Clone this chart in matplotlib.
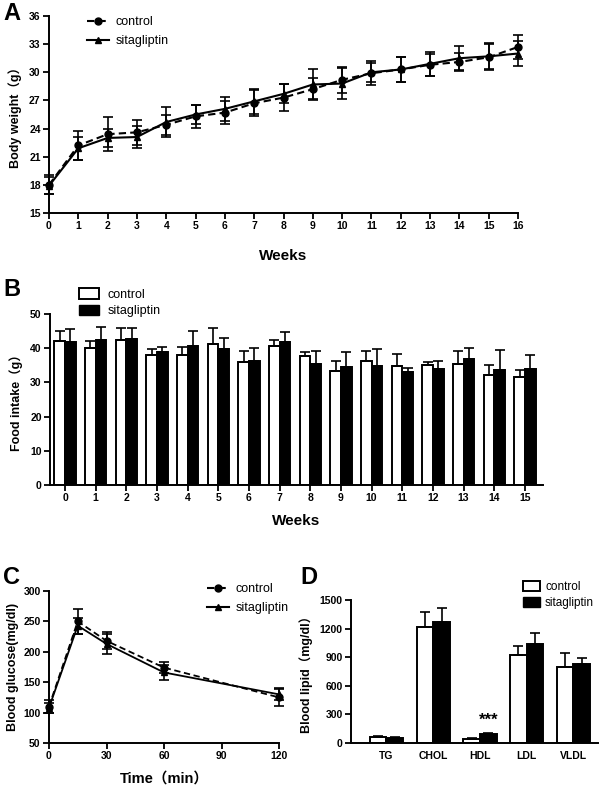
import numpy as np
import matplotlib
matplotlib.use('Agg')
import matplotlib.pyplot as plt
from matplotlib.lines import Line2D
from matplotlib.patches import Patch

plt.rcParams['font.family'] = ['Liberation Sans', 'Noto Sans CJK SC', 'DejaVu Sans']
plt.rcParams['font.weight'] = 'bold'

# --- data ---
weeks = np.arange(17)
bw_control = [18.0, 22.2, 23.4, 23.6, 24.4, 25.3, 25.7, 26.7, 27.3, 28.2, 29.2, 29.9, 30.3, 30.8, 31.1, 31.6, 32.7]
bw_control_err = [1.0, 1.5, 1.8, 1.3, 1.1, 1.2, 1.2, 1.4, 1.4, 1.2, 1.4, 1.3, 1.3, 1.2, 1.0, 1.4, 1.3]
bw_sita = [17.9, 21.9, 23.0, 23.1, 24.7, 25.5, 26.1, 26.9, 27.7, 28.7, 28.8, 30.0, 30.3, 30.9, 31.5, 31.7, 32.0]
bw_sita_err = [0.9, 1.2, 1.0, 1.2, 1.6, 1.0, 1.3, 1.3, 1.0, 1.6, 1.7, 1.0, 1.3, 1.3, 1.3, 1.4, 1.3]

fi_weeks = np.arange(16)
fi_control = [42.2, 40.1, 42.3, 38.1, 38.0, 41.2, 35.9, 40.7, 37.8, 33.2, 36.2, 34.9, 35.2, 35.3, 32.2, 31.6]
fi_control_err = [2.7, 2.1, 3.7, 1.7, 2.3, 4.7, 3.2, 1.8, 1.0, 3.0, 3.0, 3.3, 0.9, 4.0, 2.8, 2.0]
fi_sita = [41.8, 42.4, 42.8, 38.8, 40.5, 39.9, 36.3, 41.9, 35.5, 34.4, 34.7, 32.9, 33.9, 36.8, 33.7, 34.0]
fi_sita_err = [3.7, 3.8, 3.0, 1.5, 4.5, 3.0, 3.8, 2.8, 3.8, 4.5, 5.2, 1.2, 2.4, 3.3, 5.8, 4.0]

gtt_time = [0, 15, 30, 60, 120]
gtt_control = [110, 250, 218, 174, 125]
gtt_control_err = [10, 21, 14, 9, 14]
gtt_sita = [108, 243, 213, 166, 130]
gtt_sita_err = [8, 13, 16, 12, 10]

lipids = ['TG', 'CHOL', 'HDL', 'LDL', 'VLDL']
lip_control = [60, 1213, 45, 922, 792]
lip_control_err = [12, 165, 8, 94, 154]
lip_sita = [55, 1268, 92, 1035, 827]
lip_sita_err = [10, 153, 8, 123, 60]

W, H = 600, 787
fig = plt.figure(figsize=(6, 7.87), dpi=100)


def px_axes(x0, y0, x1, y1):
    # pixel box (top-left origin) -> axes
    return fig.add_axes([x0 / W, 1 - y1 / H, (x1 - x0) / W, (y1 - y0) / H])


def style(ax):
    for s in ['top', 'right']:
        ax.spines[s].set_visible(False)
    for s in ['left', 'bottom']:
        ax.spines[s].set_linewidth(1.4)
    ax.tick_params(direction='out', length=4, width=1.3, labelsize=7.5, pad=2)
    for t in ax.get_xticklabels() + ax.get_yticklabels():
        t.set_fontweight('bold')


ekw = dict(capsize=3.5, elinewidth=1.2, capthick=1.2, ecolor='black')
leg_font = {'weight': 'normal', 'size': 9}

# ---------- A ----------
axA = px_axes(49, 16, 518, 213)
axA.errorbar(weeks, bw_control, yerr=bw_control_err, fmt='o--', color='black',
             ms=5, lw=1.5, dashes=(3.5, 2), **ekw)
axA.errorbar(weeks, bw_sita, yerr=bw_sita_err, fmt='^-', color='black',
             ms=5, lw=1.5, **ekw)
axA.set_xlim(0, 16)
axA.set_ylim(15, 36)
axA.set_xticks(weeks)
axA.set_yticks(range(15, 37, 3))
axA.set_ylabel('Body weight（g）', fontsize=9, fontweight='bold', labelpad=5)
axA.set_xlabel('Weeks', fontsize=11, fontweight='bold', labelpad=13)
style(axA)
for art in axA.lines + axA.collections:
    art.set_clip_on(False)
hA = [Line2D([], [], color='black', ls='--', dashes=(3.5, 2), marker='o', ms=5, lw=1.5),
      Line2D([], [], color='black', ls='-', marker='^', ms=5, lw=1.5)]
fig.legend(hA, ['control', 'sitagliptin'], loc='upper left', bbox_to_anchor=(76 / W, 1 - 5 / H),
           frameon=False, handlelength=1.7, handletextpad=0.6, labelspacing=0.55, prop=leg_font)
fig.text(3 / W, 1 - 2 / H, 'A', fontsize=17, fontweight='bold', va='top', ha='left')

# ---------- B ----------
axB = px_axes(50, 314, 543, 485)
bw = 0.35
axB.bar(fi_weeks - bw / 2, fi_control, bw, color='white', edgecolor='black', lw=1.4,
        yerr=[np.zeros(16), fi_control_err], error_kw=ekw)
axB.bar(fi_weeks + bw / 2, fi_sita, bw, color='black', edgecolor='black', lw=1.4,
        yerr=[np.zeros(16), fi_sita_err], error_kw=ekw)
axB.set_xlim(-0.49, 15.59)
axB.set_ylim(0, 50)
axB.set_xticks(fi_weeks)
axB.set_yticks(range(0, 51, 10))
axB.set_ylabel('Food intake（g）', fontsize=9, fontweight='bold', labelpad=5)
axB.set_xlabel('Weeks', fontsize=11, fontweight='bold', labelpad=8)
style(axB)
hB = [Patch(facecolor='white', edgecolor='black', lw=1.4), Patch(facecolor='black', edgecolor='black')]
fig.legend(hB, ['control', 'sitagliptin'], loc='upper left', bbox_to_anchor=(68 / W, 1 - 277 / H),
           frameon=False, handlelength=1.6, handleheight=0.9, handletextpad=0.7, labelspacing=0.3,
           prop=leg_font)
fig.text(3 / W, 1 - 278 / H, 'B', fontsize=17, fontweight='bold', va='top', ha='left')

# ---------- C ----------
axC = px_axes(49, 591, 279, 743)
axC.errorbar(gtt_time, gtt_control, yerr=gtt_control_err, fmt='o--', color='black',
             ms=5, lw=1.3, dashes=(3.5, 2), **ekw)
axC.errorbar(gtt_time, gtt_sita, yerr=gtt_sita_err, fmt='^-', color='black',
             ms=5, lw=1.3, **ekw)
axC.set_xlim(0, 120)
axC.set_ylim(50, 300)
axC.set_xticks([0, 30, 60, 90, 120])
axC.set_yticks(range(50, 301, 50))
axC.set_ylabel('Blood glucose(mg/dl)', fontsize=9, fontweight='bold', labelpad=3)
axC.set_xlabel('Time（min）', fontsize=10.5, fontweight='bold', labelpad=7)
style(axC)
for art in axC.lines + axC.collections:
    art.set_clip_on(False)
fig.legend(hA, ['control', 'sitagliptin'], loc='upper left', bbox_to_anchor=(196 / W, 1 - 572 / H),
           frameon=False, handlelength=1.7, handletextpad=0.6, labelspacing=0.55, prop=leg_font)
fig.text(3 / W, 1 - 566 / H, 'C', fontsize=17, fontweight='bold', va='top', ha='left')

# ---------- D ----------
axD = px_axes(351, 600, 598, 743)
xl = np.arange(len(lipids))
bd = 0.357
axD.bar(xl - bd / 2, lip_control, bd, color='white', edgecolor='black', lw=1.4,
        yerr=[np.zeros(5), lip_control_err], error_kw=ekw)
axD.bar(xl + bd / 2, lip_sita, bd, color='black', edgecolor='black', lw=1.4,
        yerr=[np.zeros(5), lip_sita_err], error_kw=ekw)
axD.text(2 + bd / 2, lip_sita[2] + lip_sita_err[2] + 60, '***', ha='center', va='bottom',
         fontsize=12, fontweight='bold')
axD.set_xlim(-0.76, 4.53)
axD.set_ylim(0, 1500)
axD.set_xticks(xl)
axD.set_xticklabels(lipids)
axD.set_yticks(range(0, 1501, 300))
axD.set_ylabel('Blood lipid（mg/dl）', fontsize=9, fontweight='bold', labelpad=5)
style(axD)
axD.tick_params(axis='x', length=0, pad=6)
fig.legend(hB, ['control', 'sitagliptin'], loc='upper left', bbox_to_anchor=(522 / W, 1 - 580 / H),
           frameon=False, handlelength=1.4, handleheight=0.9, handletextpad=0.45, labelspacing=0.3,
           borderpad=0.1, borderaxespad=0, prop={'weight': 'normal', 'size': 8.5})
fig.text(300 / W, 1 - 566 / H, 'D', fontsize=17, fontweight='bold', va='top', ha='left')

fig.savefig('out.png', dpi=100)
